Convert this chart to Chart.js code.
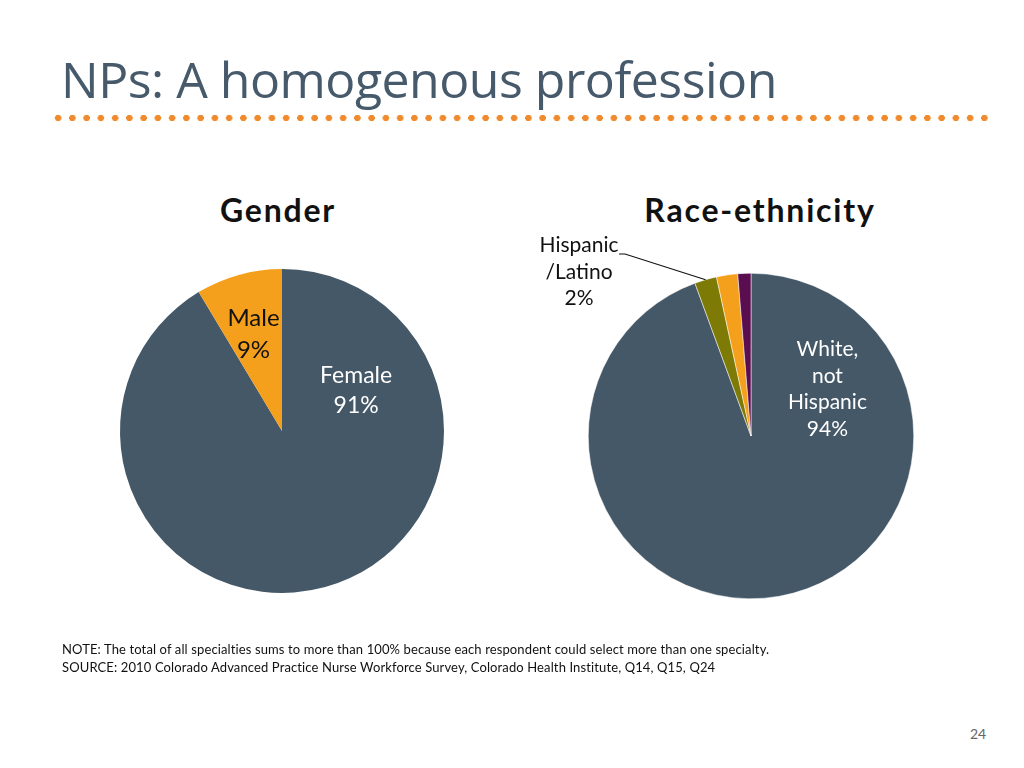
<!DOCTYPE html>
<html>
<head>
<meta charset="utf-8">
<script src="https://cdn.jsdelivr.net/npm/chart.js@4"></script>
<style>
  html, body { margin: 0; padding: 0; background: #fff; }
  body { width: 1024px; height: 768px; position: relative; overflow: hidden; font-family: Lato, "Open Sans", sans-serif; }
  #title { position: absolute; left: 61px; top: 45px; font-family: "Open Sans", sans-serif; font-size: 50px; color: #475a6b; letter-spacing: -0.5px; }
  #dots { position: absolute; left: 51px; top: 114px; width: 941px; height: 8px;
    background-image: radial-gradient(circle, #f08a2c 3px, transparent 3.4px);
    background-size: 14.26px 8px; }
  .ctitle { position: absolute; top: 190px; font-weight: bold; font-size: 32px; letter-spacing: 1.8px; color: #111; width: 300px; text-align: center; }
  canvas { position: absolute; }
  #note { position: absolute; left: 62px; top: 640px; font-size: 13px; letter-spacing: 0.12px; line-height: 18px; color: #111; }
  #page { position: absolute; left: 970px; top: 725px; font-size: 14px; color: #666; }
</style>
</head>
<body>
<div id="title">NPs: A homogenous profession</div>
<div id="dots"></div>
<div class="ctitle" style="left:128px">Gender</div>
<div class="ctitle" style="left:610px">Race-ethnicity</div>
<div style="position:absolute;left:82px;top:231px;width:400px;height:400px"><canvas id="gender"></canvas></div>
<div style="position:absolute;left:501px;top:186px;width:500px;height:500px"><canvas id="race"></canvas></div>
<div id="note">NOTE: The total of all specialties sums to more than 100% because each respondent could select more than one specialty.<br>SOURCE: 2010 Colorado Advanced Practice Nurse Workforce Survey, Colorado Health Institute, Q14, Q15, Q24</div>
<div id="page">24</div>
<script>
// Gender
const genderLabels = ['Female', 'Male'];
const genderValues = [91.4, 8.6];
const genderText = [['Female', '91%'], ['Male', '9%']];

// Race-ethnicity
const raceLabels = ['White, not Hispanic', 'Hispanic/Latino', 'Other', 'Other (2)'];
const raceValues = [94.4, 2.2, 2.1, 1.3];
const raceText = [['White,', 'not', 'Hispanic', '94%'], ['Hispanic', '/Latino', '2%'], null, null];

const SLATE = '#445868';
const ORANGE = '#f5a01c';

// draws slice labels; spots are [angleDeg from top, radius fraction] or outside {dx, dy}
const sliceLabels = {
  id: 'sliceLabels',
  afterDatasetsDraw(chart, args, opts) {
    const ctx = chart.ctx;
    const arcs = chart.getDatasetMeta(0).data;
    ctx.save();
    ctx.textAlign = 'center';
    ctx.textBaseline = 'middle';
    opts.texts.forEach((lines, i) => {
      if (!lines) return;
      const arc = arcs[i];
      const spot = opts.spots[i];
      const cx = arc.x, cy = arc.y, r = arc.outerRadius;
      ctx.font = (spot.size || 22) + 'px Lato, "Open Sans", sans-serif';
      let x, y;
      if (spot.outside) {
        x = cx + spot.dx;
        y = cy + spot.dy;
        const mid = (arc.startAngle + arc.endAngle) / 2;
        const ex = cx + Math.cos(mid) * r, ey = cy + Math.sin(mid) * r;
        ctx.strokeStyle = '#111';
        ctx.lineWidth = 1.2;
        ctx.beginPath();
        ctx.moveTo(x + 40, y - 18);
        ctx.lineTo(x + 46, y - 18);
        ctx.lineTo(ex, ey);
        ctx.stroke();
      } else {
        const a = (spot.angle - 90) * Math.PI / 180;
        x = cx + Math.cos(a) * r * spot.frac;
        y = cy + Math.sin(a) * r * spot.frac;
      }
      ctx.fillStyle = opts.colors[i];
      const lh = spot.lh || 30;
      lines.forEach((t, k) => {
        ctx.fillText(t, x, y + (k - (lines.length - 1) / 2) * lh);
      });
    });
    ctx.restore();
  }
};

function pieOptions(pad, texts, spots, colors) {
  return {
    responsive: true,
    maintainAspectRatio: false,
    animation: false,
    layout: { padding: pad },
    plugins: {
      legend: { display: false },
      tooltip: { enabled: false },
      sliceLabels: { texts, spots, colors }
    }
  };
}

new Chart(document.getElementById('gender'), {
  type: 'pie',
  data: {
    labels: genderLabels,
    datasets: [{ data: genderValues, backgroundColor: [SLATE, ORANGE], borderWidth: 0 }]
  },
  options: pieOptions(38, genderText,
    [{ angle: 61.6, frac: 0.52, lh: 30, size: 23 }, { angle: -16.5, frac: 0.62, lh: 32, size: 24 }],
    ['#ffffff', '#111111']),
  plugins: [sliceLabels]
});

new Chart(document.getElementById('race'), {
  type: 'pie',
  data: {
    labels: raceLabels,
    datasets: [{ data: raceValues, backgroundColor: [SLATE, '#7d7a06', ORANGE, '#5a0d4f'], borderColor: '#ffffff', borderWidth: 0.5 }]
  },
  options: pieOptions(87, raceText,
    [{ angle: 58.6, frac: 0.55, lh: 26.5, size: 21 }, { outside: true, dx: -172, dy: -164, lh: 26.5, size: 21 }, null, null],
    ['#ffffff', '#111111', '#111111', '#111111']),
  plugins: [sliceLabels]
});
</script>
</body>
</html>
